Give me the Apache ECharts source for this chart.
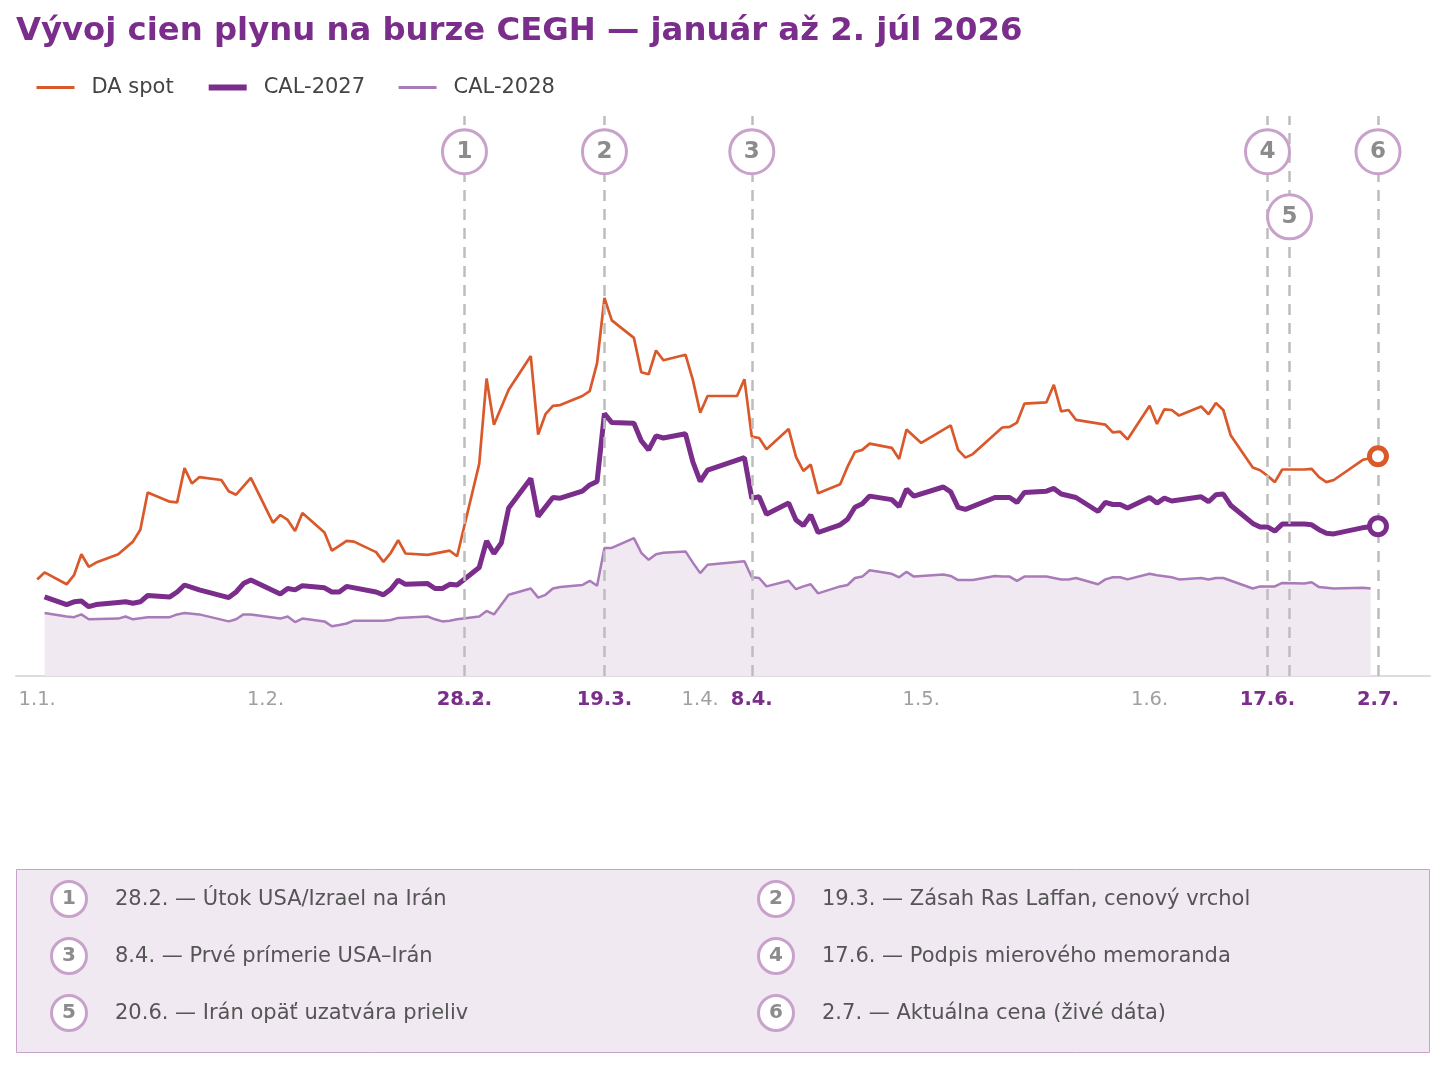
<!DOCTYPE html>
<html>
<head>
<meta charset="utf-8">
<title>Vývoj cien plynu CEGH</title>
<script src="https://cdn.jsdelivr.net/npm/echarts@6/dist/echarts.min.js"></script>
<style>
html, body { margin: 0; padding: 0; background: #fff; }
#chart { width: 1445px; height: 1069px; }
</style>
</head>
<body>
<div id="chart"></div>
<script>
// DA spot (EUR/MWh)
const daDates = ['01-01','01-02','01-05','01-06','01-07','01-08','01-09','01-12','01-14','01-15','01-16','01-19','01-20','01-21','01-22','01-23','01-26','01-27','01-28','01-30',
  '02-02','02-03','02-04','02-05','02-06','02-09','02-10','02-11','02-12','02-13','02-16','02-17','02-18','02-19','02-20','02-23','02-26','02-27',
  '03-02','03-03','03-04','03-06','03-09','03-10','03-11','03-12','03-13','03-16','03-17','03-18','03-19','03-20','03-23','03-24','03-25','03-26','03-27','03-30','03-31',
  '04-01','04-02','04-06','04-07','04-08','04-09','04-10','04-13','04-14','04-15','04-16','04-17','04-20','04-21','04-22','04-23','04-24','04-27','04-28','04-29',
  '05-01','05-05','05-06','05-07','05-08','05-12','05-13','05-14','05-15','05-18','05-19','05-20','05-21','05-22','05-26','05-27','05-28','05-29',
  '06-01','06-02','06-03','06-04','06-05','06-08','06-09','06-10','06-11','06-12','06-15','06-16','06-17','06-18','06-19','06-22','06-23','06-24','06-25','06-26','06-30','07-02'];
const daValues = [23.8,24.8,23.1,24.4,27.4,25.6,26.2,27.4,29.2,30.9,36.2,34.9,34.8,39.7,37.5,38.4,38.0,36.4,35.9,38.3,
  31.9,33.0,32.3,30.7,33.3,30.5,27.9,28.6,29.3,29.2,27.7,26.3,27.6,29.4,27.5,27.3,27.9,27.1,
  40.3,52.5,45.9,50.9,55.7,44.5,47.4,48.6,48.7,50.0,50.7,54.7,64.0,60.8,58.3,53.4,53.1,56.5,55.1,55.9,52.3,
  47.6,50.0,50.0,52.4,44.2,44.0,42.4,45.3,41.3,39.3,40.2,36.1,37.4,39.9,42.0,42.3,43.2,42.6,41.0,45.2,
  43.3,45.8,42.3,41.2,41.7,45.5,45.6,46.2,48.9,49.1,51.6,47.8,48.0,46.6,45.9,44.8,44.9,43.8,
  48.6,46.0,48.1,48.0,47.2,48.5,47.4,49.0,48.0,44.4,39.8,39.4,38.6,37.7,39.5,39.5,39.6,38.4,37.7,38.0,40.9,41.4];

// CAL-2027
const cal27Dates = ['01-02','01-05','01-06','01-07','01-08','01-09','01-12','01-13','01-14','01-15','01-16','01-19','01-20','01-21','01-23','01-27','01-28','01-29','01-30',
  '02-03','02-04','02-05','02-06','02-09','02-10','02-11','02-12','02-16','02-17','02-18','02-19','02-20','02-23','02-24','02-25','02-26','02-27',
  '03-02','03-03','03-04','03-05','03-06','03-09','03-10','03-12','03-13','03-16','03-17','03-18','03-19','03-20','03-23','03-24','03-25','03-26','03-27','03-30','03-31',
  '04-01','04-02','04-07','04-08','04-09','04-10','04-13','04-14','04-15','04-16','04-17','04-20','04-21','04-22','04-23','04-24','04-27','04-28','04-29','04-30',
  '05-04','05-05','05-06','05-07','05-11','05-13','05-14','05-15','05-18','05-19','05-20','05-22','05-25','05-26','05-27','05-28','05-29',
  '06-01','06-02','06-03','06-04','06-08','06-09','06-10','06-11','06-12','06-15','06-16','06-17','06-18','06-19','06-22','06-23','06-24','06-25','06-26','06-30','07-02'];
const cal27Values = [21.3,20.2,20.6,20.7,19.9,20.2,20.5,20.6,20.4,20.6,21.5,21.3,22.0,23.0,22.3,21.2,22.0,23.2,23.7,
  21.7,22.5,22.3,22.9,22.6,22.0,22.0,22.8,22.0,21.6,22.4,23.7,23.1,23.2,22.5,22.5,23.1,23.0,
  25.5,29.3,27.5,29.0,34.0,38.2,32.8,35.5,35.4,36.4,37.3,37.8,47.5,46.2,46.1,43.6,42.3,44.3,44.0,44.6,40.6,
  37.8,39.4,41.2,35.4,35.6,33.1,34.7,32.3,31.5,33.0,30.5,31.6,32.4,34.1,34.6,35.7,35.2,34.2,36.7,35.7,
  37.0,36.3,34.1,33.8,35.5,35.5,34.8,36.2,36.4,36.8,36.0,35.5,33.5,34.8,34.5,34.5,34.0,
  35.5,34.7,35.4,35.0,35.6,34.9,35.9,36.0,34.4,31.8,31.3,31.3,30.7,31.7,31.7,31.6,30.9,30.4,30.3,31.2,31.4];

// CAL-2028
const cal28Dates = ['01-02','01-05','01-06','01-07','01-08','01-12','01-13','01-14','01-16','01-19','01-20','01-21','01-23','01-27','01-28','01-29','01-30',
  '02-03','02-04','02-05','02-06','02-09','02-10','02-11','02-12','02-13','02-17','02-18','02-19','02-23','02-24','02-25','02-26','02-27',
  '03-02','03-03','03-04','03-06','03-09','03-10','03-11','03-12','03-13','03-16','03-17','03-18','03-19','03-20','03-23','03-24','03-25','03-26','03-27','03-30','03-31',
  '04-01','04-02','04-07','04-08','04-09','04-10','04-13','04-14','04-15','04-16','04-17','04-20','04-21','04-22','04-23','04-24','04-27','04-28','04-29','04-30',
  '05-04','05-05','05-06','05-08','05-11','05-12','05-13','05-14','05-15','05-18','05-19','05-20','05-21','05-22','05-25','05-26','05-27','05-28','05-29',
  '06-01','06-02','06-04','06-05','06-08','06-09','06-10','06-11','06-15','06-16','06-17','06-18','06-19','06-22','06-23','06-24','06-26','06-30','07-01'];
const cal28Values = [19.0,18.5,18.4,18.8,18.1,18.2,18.5,18.1,18.4,18.4,18.8,19.0,18.8,17.8,18.1,18.8,18.8,
  18.2,18.5,17.7,18.2,17.8,17.1,17.3,17.5,17.9,17.9,18.0,18.3,18.5,18.1,17.8,17.9,18.1,
  18.5,19.3,18.8,21.6,22.5,21.2,21.6,22.5,22.7,23.0,23.6,22.9,28.3,28.3,29.7,27.6,26.6,27.4,27.6,27.8,26.2,
  24.7,25.9,26.4,24.1,24.0,22.8,23.6,22.4,22.8,23.1,21.8,22.8,23.0,24.0,24.2,25.1,24.6,24.1,24.9,24.2,
  24.5,24.3,23.7,23.7,24.3,24.2,24.2,23.6,24.2,24.2,24.0,23.8,23.8,24.0,23.1,23.8,24.1,24.1,23.8,
  24.6,24.4,24.1,23.8,24.0,23.8,24.0,24.0,22.5,22.8,22.8,22.8,23.3,23.2,23.4,22.7,22.5,22.6,22.5];

// udalosti
const eventDates = ['02-28','03-19','04-08','06-17','06-20','07-02'];
const eventNums = ['1','2','3','4','5','6'];
const eventLevels = [0, 0, 0, 0, 1, 0];
const eventTexts = [
  '28.2. — Útok USA/Izrael na Irán',
  '19.3. — Zásah Ras Laffan, cenový vrchol',
  '8.4. — Prvé prímerie USA–Irán',
  '17.6. — Podpis mierového memoranda',
  '20.6. — Irán opäť uzatvára prieliv',
  '2.7. — Aktuálna cena (živé dáta)'
];

// popisky osi x
const tickDates = ['01-01','02-01','03-01','04-01','05-01','06-01','02-28','03-19','04-08','06-17','07-02'];
const tickLabels = ['1.1.','1.2.','1.3.','1.4.','1.5.','1.6.','28.2.','19.3.','8.4.','17.6.','2.7.'];
const tickBold = [false, false, false, false, false, false, true, true, true, true, true];

const FONT = 'DejaVu Sans';
const C_DA = '#d9592b';
const C_27 = '#7b2d8b';
const C_28 = '#a97bb8';
const C_RING = '#c9a2cb';
const markerLevelValue = [84.9, 75.6];

// datum 'MM-DD' (rok 2026) -> timestamp
const ts = (d) => Date.UTC(2026, +d.slice(0, 2) - 1, +d.slice(3, 5));
const DAY = 86400000;
const pair = (dates, vals) => dates.map((d, i) => [ts(d), vals[i]]);
const tickTs = tickDates.map(ts);

const chart = echarts.init(document.getElementById('chart'));

const endMark = (color, date, val) => ({
  symbol: 'circle',
  symbolSize: 17,
  itemStyle: { color: '#fff', borderColor: color, borderWidth: 5 },
  label: { show: false },
  silent: true,
  data: [{ coord: [ts(date), val] }]
});

// legenda udalosti pod grafom
const boxChildren = [{
  type: 'rect',
  shape: { x: 16.5, y: 869.5, width: 1413, height: 183 },
  style: { fill: '#f1e9f2', stroke: C_RING, lineWidth: 1 }
}];
eventTexts.forEach((t, i) => {
  const cx = i % 2 === 0 ? 69 : 776;
  const cy = 899 + Math.floor(i / 2) * 57;
  boxChildren.push({
    type: 'circle',
    shape: { cx: cx, cy: cy, r: 17.5 },
    style: { fill: '#fff', stroke: C_RING, lineWidth: 3 }
  });
  boxChildren.push({
    type: 'text', x: cx, y: cy,
    style: { text: eventNums[i], fill: '#8c8c8c', font: 'bold 20px "DejaVu Sans"', align: 'center', verticalAlign: 'middle' }
  });
  boxChildren.push({
    type: 'text', x: cx + 46, y: cy + 1,
    style: { text: t, fill: '#555', font: '21px "DejaVu Sans"', align: 'left', verticalAlign: 'middle' }
  });
});

chart.setOption({
  animation: false,
  backgroundColor: '#fff',
  textStyle: { fontFamily: FONT },
  title: {
    text: 'Vývoj cien plynu na burze CEGH — január až 2. júl 2026',
    left: 11, top: 11,
    textStyle: { color: C_27, fontSize: 32.3, fontWeight: 'bold', fontFamily: FONT }
  },
  legend: {
    data: [
      { name: 'DA spot', lineStyle: { color: C_DA, width: 3 } },
      { name: 'CAL-2027', lineStyle: { color: C_27, width: 6 } },
      { name: 'CAL-2028', lineStyle: { color: C_28, width: 3 } }
    ],
    left: 30, top: 72,
    itemWidth: 38, itemHeight: 24, itemGap: 32,
    itemStyle: { opacity: 0 },
    textStyle: { color: '#444', fontSize: 21, fontFamily: FONT, padding: [0, 0, 0, 12] }
  },
  grid: { left: 16, right: 15, top: 116, bottom: 393 },
  xAxis: {
    type: 'value',
    min: ts('01-01') - 2.875 * DAY,
    max: ts('07-02') + 7.06 * DAY,
    axisLine: { show: true, lineStyle: { color: '#dcdcdc', width: 2 } },
    axisTick: { show: false },
    splitLine: { show: false },
    axisLabel: {
      customValues: tickTs,
      hideOverlap: false,
      margin: 14,
      formatter: (v) => {
        const i = tickTs.findIndex(t => Math.abs(t - v) < 1000);
        if (i < 0) return '';
        return tickBold[i] ? '{b|' + tickLabels[i] + '}' : '{n|' + tickLabels[i] + '}';
      },
      rich: {
        n: { color: '#a0a0a0', fontSize: 19.5, fontFamily: FONT },
        b: { color: C_27, fontSize: 19.5, fontWeight: 'bold', fontFamily: FONT }
      }
    }
  },
  yAxis: {
    type: 'value', min: 10, max: 90, show: false,
    splitLine: { show: false }
  },
  graphic: [{ type: 'group', children: boxChildren }],
  series: [
    {
      name: 'CAL-2028',
      type: 'line',
      data: pair(cal28Dates, cal28Values),
      symbol: 'none',
      lineStyle: { color: C_28, width: 2.5 },
      itemStyle: { color: C_28 },
      areaStyle: { color: '#f1e9f2', opacity: 1, origin: 'start' },
      z: 2
    },
    {
      name: 'udalosti',
      type: 'scatter',
      data: eventDates.map((d, i) => [ts(d), markerLevelValue[eventLevels[i]], eventNums[i]]),
      symbol: 'circle',
      symbolSize: 44,
      itemStyle: { color: '#fff', borderColor: C_RING, borderWidth: 3, opacity: 1 },
      label: {
        show: true, position: 'inside',
        formatter: (p) => p.value[2],
        color: '#8c8c8c', fontSize: 23, fontWeight: 'bold', fontFamily: FONT
      },
      markLine: {
        silent: true,
        symbol: 'none',
        label: { show: false },
        lineStyle: { color: '#bdbdbd', width: 2.5, type: [11, 8] },
        data: eventDates.map(d => ({ xAxis: ts(d) }))
      },
      z: 5
    },
    {
      name: 'DA spot',
      type: 'line',
      data: pair(daDates, daValues),
      symbol: 'none',
      lineStyle: { color: C_DA, width: 2.7 },
      itemStyle: { color: C_DA },
      markPoint: endMark(C_DA, '07-02', 41.4),
      z: 4
    },
    {
      name: 'CAL-2027',
      type: 'line',
      data: pair(cal27Dates, cal27Values),
      symbol: 'none',
      lineStyle: { color: C_27, width: 5 },
      itemStyle: { color: C_27 },
      markPoint: endMark(C_27, '07-02', 31.4),
      z: 4
    }
  ]
});
</script>
</body>
</html>
